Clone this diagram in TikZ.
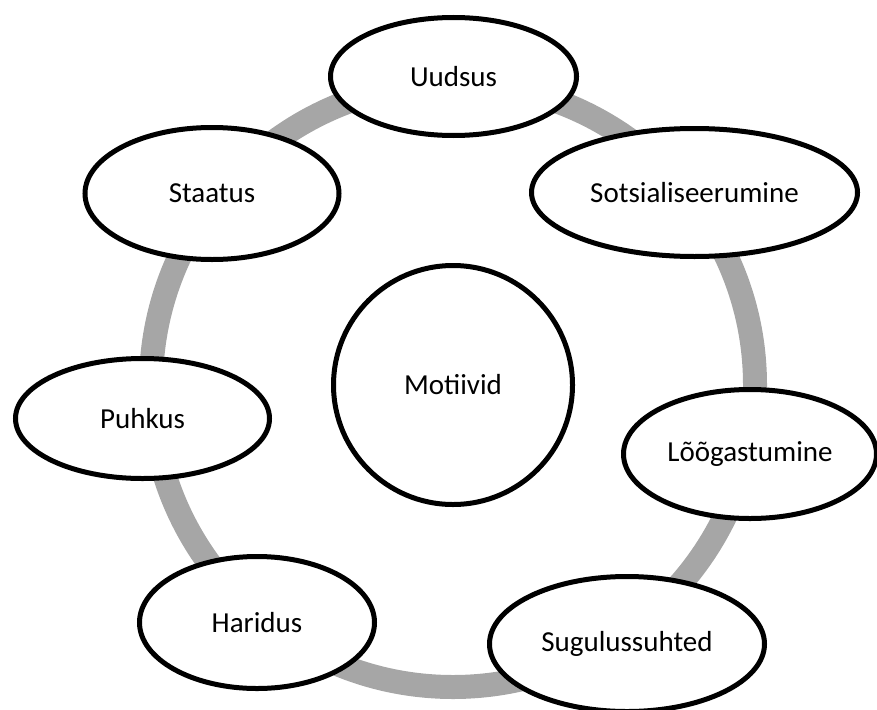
\documentclass[tikz,border=0pt]{standalone}
\usepackage{fontspec}
\setmainfont{Carlito}
\usetikzlibrary{
  backgrounds,
  shapes.geometric
}
\definecolor{ringgray}{RGB}{166,166,166}
\tikzset{
  motive/.style={ellipse,draw=black,line width=5pt,fill=white,
    inner sep=0pt,align=center,font=\fontsize{29}{34}\selectfont},
  core/.style={circle,draw=black,line width=5pt,fill=white,
    inner sep=0pt,align=center,font=\fontsize{29}{34}\selectfont},
  ringline/.style={draw=ringgray,line width=24pt}
}

\begin{document}
\begin{tikzpicture}[x=1pt,y=-1pt]
  \useasboundingbox (0,0) rectangle (877,709);
  \node[core,minimum size=239pt] (mot) at (453,385) {Motiivid};
  \node[motive,minimum width=246pt,minimum height=118pt] (uud) at (453.5,76.5) {Uudsus};
  \node[motive,minimum width=326pt,minimum height=128pt] (sots) at (694.5,192.5) {Sotsialiseerumine};
  \node[motive,minimum width=253pt,minimum height=129pt] (loog) at (750,454) {Lõõgastumine};
  \node[motive,minimum width=275pt,minimum height=135pt] (sug) at (627,644) {Sugulussuhted};
  \node[motive,minimum width=235pt,minimum height=132pt] (har) at (257,622.5) {Haridus};
  \node[motive,minimum width=254pt,minimum height=120pt] (puh) at (142.5,418.5) {Puhkus};
  \node[motive,minimum width=254pt,minimum height=132pt] (sta) at (212,193.5) {Staatus};

  \begin{scope}[on background layer]
    \draw[ringline] (mot.center) circle[radius=302pt];
  \end{scope}
\end{tikzpicture}
\end{document}
